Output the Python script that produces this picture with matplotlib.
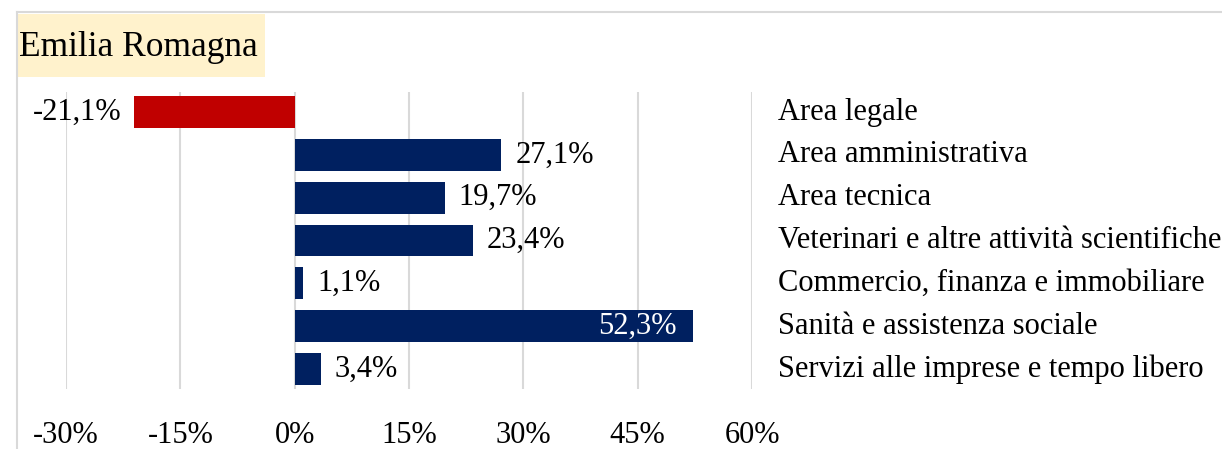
import matplotlib
matplotlib.use("Agg")
import matplotlib.pyplot as plt
from matplotlib.lines import Line2D
from matplotlib.patches import Rectangle

categories = [
    "Area legale",
    "Area amministrativa",
    "Area tecnica",
    "Veterinari e altre attività scientifiche",
    "Commercio, finanza e immobiliare",
    "Sanità e assistenza sociale",
    "Servizi alle imprese e tempo libero",
]
values = [-21.1, 27.1, 19.7, 23.4, 1.1, 52.3, 3.4]
ticks = [-30, -15, 0, 15, 30, 45, 60]
title = "Emilia Romagna"

W, H = 1222, 449
plt.rcParams['font.family'] = ['Liberation Serif', 'DejaVu Serif']
fig = plt.figure(figsize=(W / 100, H / 100), dpi=100)

def fx(px):
    return px / W

def fy(py):
    return 1 - py / H

FS = 22

# frame lines
grey = "#D9D9D9"
fig.add_artist(Line2D([fx(17), 1], [fy(12), fy(12)], color=grey, lw=1.5, transform=fig.transFigure))
fig.add_artist(Line2D([fx(17), fx(17)], [fy(12), 0], color=grey, lw=1.5, transform=fig.transFigure))

# title box
fig.add_artist(Rectangle((fx(17), fy(77)), fx(265) - fx(17), fy(14) - fy(77),
                         facecolor="#FFF2CC", edgecolor="none", transform=fig.transFigure))
fig.text(fx(19), fy(47), title, fontsize=25.5, va="center", ha="left")

left, right, top, bottom = 66, 752, 92, 389
ax = fig.add_axes([fx(left), fy(bottom), fx(right) - fx(left), (bottom - top) / H])
ax.set_xlim(ticks[0], ticks[-1])
ax.set_ylim(len(categories) - 1 + 0.47, -0.47)

colors = ["#C00000" if v < 0 else "#002060" for v in values]
ypos = list(range(len(categories)))
ax.barh(ypos, values, height=0.74, color=colors, zorder=3)

for s in ax.spines.values():
    s.set_visible(False)
ax.set_yticks([])
ax.set_xticks(ticks)
ax.set_xticklabels([f"{t}%" for t in ticks], fontsize=FS)
ax.tick_params(axis="x", length=0, pad=23)
ax.grid(axis="x", color=grey, lw=1.5, zorder=0)
ax.set_axisbelow(True)

px_per_unit = (right - left) / (ticks[-1] - ticks[0])
for y, v, cat in zip(ypos, values, categories):
    lab = f"{v:.1f}%".replace(".", ",")
    if v < 0:
        ax.text(v - 12 / px_per_unit, y, lab, ha="right", va="center", fontsize=FS)
    elif v > 45:
        ax.text(v - 17 / px_per_unit, y, lab, ha="right", va="center", fontsize=FS, color="white")
    else:
        ax.text(v + 14 / px_per_unit, y, lab, ha="left", va="center", fontsize=FS)
    ax.text(ticks[0] + (778 - left) / px_per_unit, y, cat,
            ha="left", va="center", fontsize=FS, clip_on=False)

fig.savefig("out.png", dpi=100)
